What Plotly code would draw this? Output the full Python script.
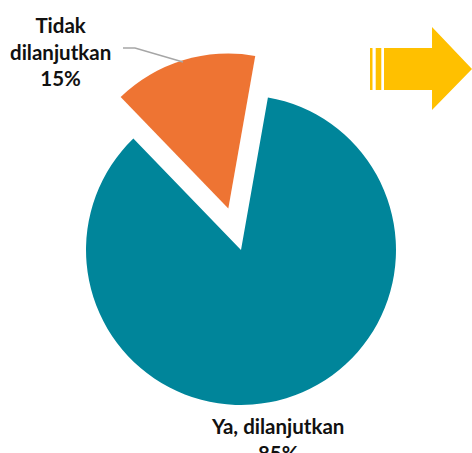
import plotly.graph_objects as go

labels = ["Ya, dilanjutkan", "Tidak dilanjutkan"]
label_lines = [["Ya, dilanjutkan"], ["Tidak", "dilanjutkan"]]
values = [85, 15]
colors = ["#00859A", "#EE7433"]

W, H = 472, 453

def px(x, y):
    return x / W, 1 - y / H

fig = go.Figure(go.Pie(
    labels=labels, values=values, sort=False, direction="clockwise",
    rotation=10, pull=[0, 0.28], textinfo="none", hoverinfo="label+percent",
    marker=dict(colors=colors, line=dict(width=0)),
    domain=dict(x=[0.0903, 0.9309], y=[0.0101, 0.8861]),
    showlegend=False,
))

font = dict(family="Lato", size=20.5, color="#111111", weight=700)
total = sum(values)

def lab(i):
    return "<br>".join(label_lines[i] + [f"{round(values[i] / total * 100)}%"])

ax, ay = px(61, 51)
fig.add_annotation(x=ax, y=ay, xref="paper", yref="paper", text=lab(1),
                   xanchor="center", yanchor="middle",
                   showarrow=False, font=font, align="center")
bx, by = px(277, 439)
fig.add_annotation(x=bx, y=by, xref="paper", yref="paper", text=lab(0),
                   xanchor="center", yanchor="middle",
                   showarrow=False, font=font, align="center")

def path(points):
    s = ""
    for k, (x, y) in enumerate(points):
        u, v = px(x, y)
        s += ("M" if k == 0 else "L") + f"{u:.4f},{v:.4f} "
    return s

# connector line
fig.add_shape(type="path", xref="paper", yref="paper",
              path=path([(123, 48), (135, 48), (183, 62)]),
              line=dict(color="#A6A6A6", width=1.5))

yellow = "#FFC000"
# arrow body + head
fig.add_shape(type="path", xref="paper", yref="paper",
              path=path([(384, 48), (432, 48), (432, 27), (472, 69),
                         (432, 110), (432, 90), (384, 90)]) + "Z",
              fillcolor=yellow, line=dict(width=0))
for x0, x1 in [(370, 372.5), (375.7, 381.3)]:
    u0, v0 = px(x0, 48)
    u1, v1 = px(x1, 90)
    fig.add_shape(type="rect", xref="paper", yref="paper",
                  x0=u0, x1=u1, y0=v1, y1=v0, fillcolor=yellow, line=dict(width=0))

fig.update_layout(width=W, height=H, margin=dict(l=0, r=0, t=0, b=0),
                  paper_bgcolor="white", plot_bgcolor="white")
fig.write_html("out.html", config={"displayModeBar": False},
               post_script="document.body.style.margin='0';document.body.style.overflow='hidden';")
